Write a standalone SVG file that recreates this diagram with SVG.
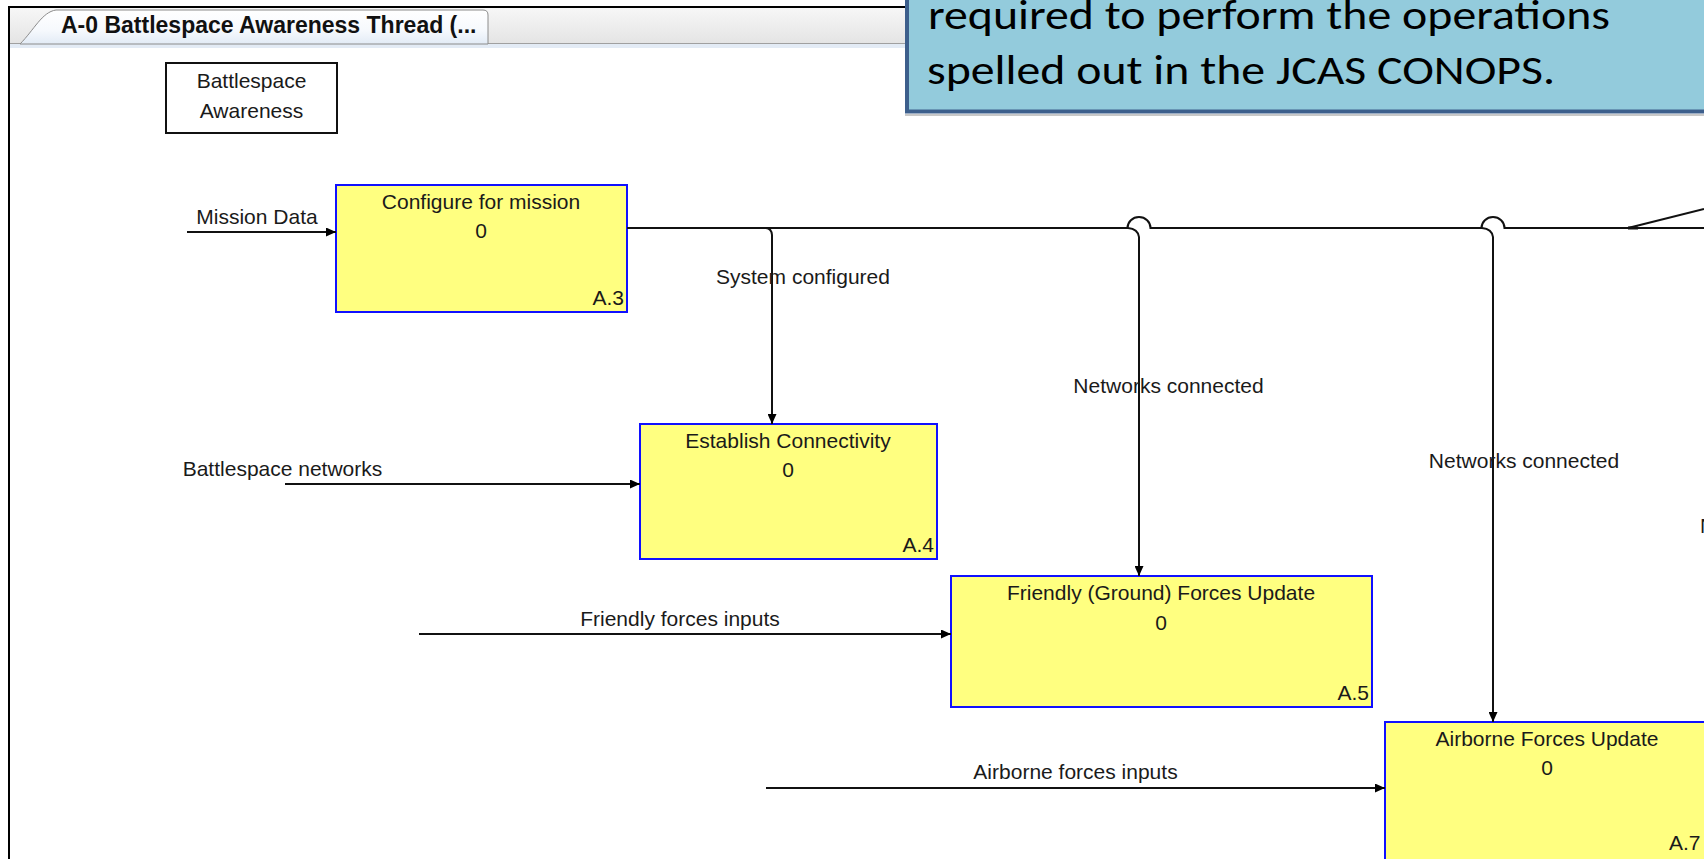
<svg xmlns="http://www.w3.org/2000/svg" width="1704" height="859" viewBox="0 0 1704 859">
<defs>
<style>
.lbl{font-family:"Liberation Sans",Arial,sans-serif;font-size:21px;fill:#1a1a1a}
.mid{text-anchor:middle}
.box{fill:#ffff80;stroke:#1010ff;stroke-width:2}
.ln{fill:none;stroke:#111;stroke-width:2}
.call{font-family:Carlito,Lato,"Open Sans",sans-serif;font-size:42px;fill:#000}
</style>
<marker id="arr" markerWidth="11" markerHeight="9" refX="10" refY="4.5" orient="auto" markerUnits="userSpaceOnUse">
<path d="M0,0 L10,4.5 L0,9 z" fill="#000"/>
</marker>
<linearGradient id="strip" x1="0" y1="0" x2="0" y2="1">
<stop offset="0" stop-color="#f7f7f7"/><stop offset="1" stop-color="#e4e4e4"/>
</linearGradient>
<linearGradient id="tabg" x1="0" y1="0" x2="0" y2="1">
<stop offset="0" stop-color="#ffffff"/><stop offset="0.6" stop-color="#f6f9fd"/><stop offset="1" stop-color="#e2ebf6"/>
</linearGradient>
</defs>
<rect x="0" y="0" width="1704" height="859" fill="#fff"/>
<g id="window">
<rect x="9" y="7" width="1700" height="37" fill="url(#strip)"/>
<line x1="9" y1="43.5" x2="1704" y2="43.5" stroke="#a0a0a0" stroke-width="1"/>
<rect x="9" y="44" width="1700" height="4" fill="#e3ebf5"/>
<path d="M20 44 C34 30 42 12 56 10 L483 10 Q488 10 488 15 L488 44 Z" fill="url(#tabg)" stroke="#8c8c8c" stroke-width="1"/>
<text x="61" y="33" font-family="'Liberation Sans',Arial,sans-serif" font-size="23" font-weight="bold" fill="#111">A-0 Battlespace Awareness Thread (...</text>
<line x1="8" y1="7" x2="1704" y2="7" stroke="#000" stroke-width="2"/>
<line x1="9" y1="6" x2="9" y2="859" stroke="#000" stroke-width="2"/>
</g>
<g id="callout">
<line x1="905" y1="115" x2="1704" y2="115" stroke="#c8c8c8" stroke-width="2"/>
<rect x="907" y="-10" width="810" height="121.5" fill="#93cbdc" stroke="#3d5f8c" stroke-width="4"/>
<text class="call" x="928" y="29" textLength="682" lengthAdjust="spacingAndGlyphs">required to perform the operations</text>
<text class="call" x="927" y="84" textLength="628" lengthAdjust="spacingAndGlyphs">spelled out in the JCAS CONOPS.</text>
</g>
<g id="context">
<rect x="166" y="63" width="171" height="70" fill="#fff" stroke="#111" stroke-width="2"/>
<text class="lbl mid" x="251.5" y="88">Battlespace</text>
<text class="lbl mid" x="251.5" y="118">Awareness</text>
</g>
<g id="A3">
<rect class="box" x="336" y="185" width="291" height="127"/>
<text class="lbl mid" x="481" y="209">Configure for mission</text>
<text class="lbl mid" x="481" y="238">0</text>
<text class="lbl" x="624" y="305" text-anchor="end">A.3</text>
</g>
<g id="A4">
<rect class="box" x="640" y="424" width="297" height="135"/>
<text class="lbl mid" x="788" y="448">Establish Connectivity</text>
<text class="lbl mid" x="788" y="477">0</text>
<text class="lbl" x="934" y="552" text-anchor="end">A.4</text>
</g>
<g id="A5">
<rect class="box" x="951" y="576" width="421" height="131"/>
<text class="lbl mid" x="1161" y="600">Friendly (Ground) Forces Update</text>
<text class="lbl mid" x="1161" y="630">0</text>
<text class="lbl" x="1369" y="700" text-anchor="end">A.5</text>
</g>
<g id="A7">
<rect class="box" x="1385" y="722" width="324" height="140"/>
<text class="lbl mid" x="1547" y="746">Airborne Forces Update</text>
<text class="lbl mid" x="1547" y="775">0</text>
<text class="lbl" x="1669" y="850">A.7</text>
</g>
<g id="connectors">
<path class="ln" marker-end="url(#arr)" d="M187 232 L336 232"/>
<path class="ln" d="M627 228 L1127.5 228 A11.5 11 0 0 1 1150.5 228 L1481.5 228 A11.5 11 0 0 1 1504.5 228 L1704 228"/>
<path class="ln" marker-end="url(#arr)" d="M766 228 Q771.5 228.5 772 235 L772 424"/>
<path class="ln" marker-end="url(#arr)" d="M1128 228 Q1138 229 1139 237 L1139 576"/>
<path class="ln" marker-end="url(#arr)" d="M1482 228 Q1492 229 1493 237 L1493 722"/>
<path class="ln" marker-end="url(#arr)" d="M285 484 L640 484"/>
<path class="ln" marker-end="url(#arr)" d="M419 634 L951 634"/>
<path class="ln" marker-end="url(#arr)" d="M766 788 L1385 788"/>
<path class="ln" d="M1628 228 L1704 209"/>
<path d="M1628 226.5 L1638 226.5 L1638 229.5 L1628 229.5 Z" fill="#111"/>
</g>
<g id="labels">
<text class="lbl mid" x="257" y="224">Mission Data</text>
<text class="lbl mid" x="803" y="284">System configured</text>
<text class="lbl mid" x="1168.5" y="393">Networks connected</text>
<text class="lbl mid" x="1524" y="468">Networks connected</text>
<text class="lbl mid" x="282.5" y="476">Battlespace networks</text>
<text class="lbl mid" x="680" y="626">Friendly forces inputs</text>
<text class="lbl mid" x="1075.5" y="779">Airborne forces inputs</text>
<text class="lbl" x="1700" y="533">N</text>
</g>
</svg>
